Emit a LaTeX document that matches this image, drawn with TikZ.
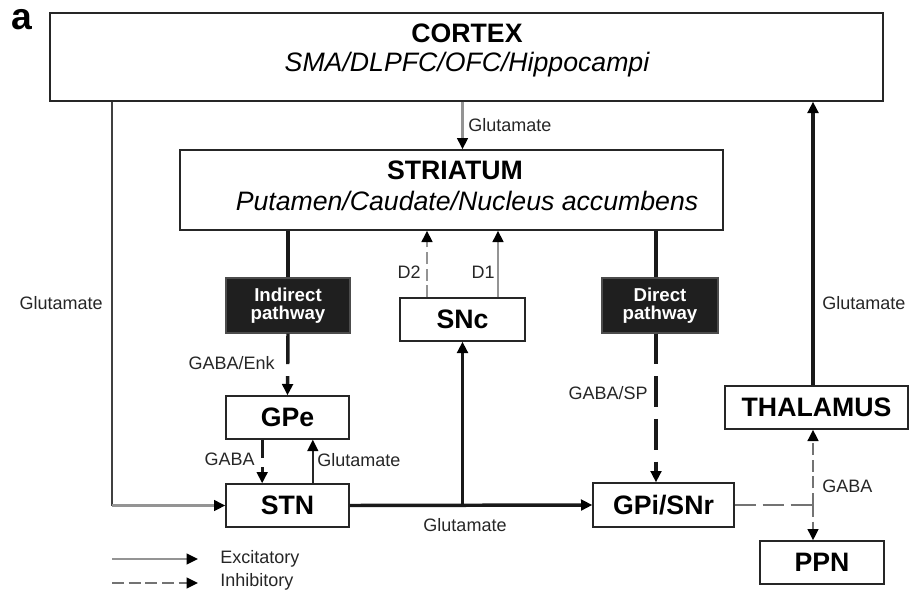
\documentclass[tikz,border=0pt]{standalone}
\usepackage{fontspec}
\setmainfont{Liberation Sans}
\usetikzlibrary{arrows.meta,calc}
\usepackage{xcolor}
\colorlet{exc-gray}{black!42}
\colorlet{inh-gray}{black!55}
\def\pxu{0.75pt}
\tikzset{
  box/.style={draw=black!85, line width=1pt, fill=white, inner sep=0pt,
    font=\fontsize{20}{22}\selectfont\bfseries},
  boxtext/.style={inner sep=0pt},
  pathbox/.style={draw=black!70, line width=0.8pt, fill=black!88, text=white, inner sep=0pt,
    align=center, font=\fontsize{14}{13.5}\selectfont\bfseries},
  lbl/.style={font=\fontsize{13.5}{15}\selectfont, text=black!85, inner sep=0pt},
  tip/.style={-{Triangle[length=8.5pt,width=8pt,color=black]}},
  thin wire/.style={line width=1.6pt, exc-gray},
  heavy wire/.style={line width=2.6pt, black!90},
  long dash/.style={dash pattern=on 23pt off 9pt},
  short dash/.style={dash pattern=on 9pt off 3.5pt},
}

\begin{document}
\begin{tikzpicture}[x=0.75pt, y=-0.75pt]
\useasboundingbox (0,0) rectangle (910,596);

% panel letter
\node[font=\fontsize{28}{30}\selectfont\bfseries, inner sep=0pt, anchor=base] (panel) at (22,29) {a};

% boxes
\node[box, minimum width=833*\pxu, minimum height=88*\pxu] (cortex) at (466.5,57) {};
\node[boxtext, font=\fontsize{20}{22}\selectfont\bfseries, anchor=base] (cortex-name) at (467,42) {CORTEX};
\node[boxtext, font=\fontsize{20}{22}\selectfont\itshape, anchor=base] (cortex-sub) at (467,71) {SMA/DLPFC/OFC/Hippocampi};

\node[box, minimum width=543*\pxu, minimum height=80*\pxu] (striatum) at (451.5,190) {};
\node[boxtext, font=\fontsize{20}{22}\selectfont\bfseries, anchor=base] (striatum-name) at (455,179) {STRIATUM};
\node[boxtext, font=\fontsize{20}{22}\selectfont\itshape, anchor=base] (striatum-sub) at (467,210) {Putamen/Caudate/Nucleus accumbens};

\node[pathbox, minimum width=124*\pxu, minimum height=55*\pxu] (indirect) at (288,305.5) {Indirect\\pathway};
\node[pathbox, minimum width=116*\pxu, minimum height=55*\pxu] (direct) at (660,305.5) {Direct\\pathway};

\node[box, minimum width=125*\pxu, minimum height=43*\pxu] (snc) at (462.5,319.5) {SNc};
\node[box, minimum width=123*\pxu, minimum height=43*\pxu] (gpe) at (287.5,417.5) {GPe};
\node[box, minimum width=123*\pxu, minimum height=43*\pxu] (stn) at (287.5,505.5) {STN};
\node[box, minimum width=141*\pxu, minimum height=44*\pxu] (gpi) at (663.5,505) {GPi/SNr};
\node[box, minimum width=183*\pxu, minimum height=43*\pxu] (thal) at (816.5,407.5) {THALAMUS};
\node[box, minimum width=124*\pxu, minimum height=43*\pxu] (ppn) at (822,562.5) {PPN};

% x positions of the vertical wires
\coordinate (ctx-x) at (112,0);
\coordinate (d2-x) at (427,0);
\coordinate (d1-x) at (498,0);
\coordinate (dir-x) at (656,0);
\coordinate (thal-x) at (813,0);

% cortex -> striatum
\draw[thin wire, tip] (cortex.south -| snc.north) -- (striatum.north -| snc.north);
\node[lbl, anchor=west] (glu-str) at (468,125) {Glutamate};

% cortex -> STN
\coordinate (ctx-turn) at (stn.west -| ctx-x);
\draw[line width=1.6pt, black!75] (cortex.south -| ctx-x) -- (ctx-turn);
\draw[thin wire, tip] (ctx-turn) -- (stn.west);
\node[lbl, anchor=east] (glu-left) at (103,303) {Glutamate};

% indirect pathway
\draw[heavy wire] (striatum.south -| indirect.north) -- (indirect.north);
\draw[heavy wire, long dash, tip] (indirect.south) -- (gpe.north);
\node[lbl, anchor=east] (gaba-enk) at (275,363) {GABA/Enk};

% GPe <-> STN
\draw[heavy wire, line width=2.2pt, dash pattern=on 13.5pt off 7pt, tip] ([xshift=-19pt]gpe.south) -- ([xshift=-19pt]stn.north);
\draw[line width=1.6pt, black!85, tip] ([xshift=19pt]stn.north) -- ([xshift=19pt]gpe.south);
\node[lbl, anchor=east] (gaba-gpe) at (255,459) {GABA};
\node[lbl, anchor=west] (glu-gpe) at (317,460) {Glutamate};

% STN -> GPi/SNr and SNc
\draw[heavy wire, tip] (stn.east) -- (gpi.west);
\draw[heavy wire, tip] (stn.east -| snc.south) -- (snc.south);
\node[lbl] (glu-stn) at (465,525) {Glutamate};

% SNc -> striatum
\draw[thin wire, short dash, tip] (snc.north -| d2-x) -- (striatum.south -| d2-x);
\draw[thin wire, tip] (snc.north -| d1-x) -- (striatum.south -| d1-x);
\node[lbl, anchor=east] (d2) at (421,272) {D2};
\node[lbl, anchor=east] (d1) at (495,272) {D1};

% direct pathway
\draw[heavy wire] (striatum.south -| dir-x) -- (direct.north -| dir-x);
\draw[heavy wire, long dash, tip] (direct.south -| dir-x) -- (gpi.north -| dir-x);
\node[lbl, anchor=east] (gaba-sp) at (648,393) {GABA/SP};

% GPi/SNr -> thalamus and PPN
\coordinate (gaba-j) at (gpi.east -| thal-x);
\draw[line width=1.6pt, inh-gray, dash pattern=on 16pt off 5pt] (gpi.east) -- (gaba-j);
\draw[line width=1.6pt, inh-gray, short dash, tip] (gaba-j) -- (thal.south -| thal-x);
\draw[line width=1.6pt, inh-gray, short dash, tip] (gaba-j) -- (ppn.north -| thal-x);
\node[lbl, anchor=west] (gaba-gpi) at (822,486) {GABA};

% thalamus -> cortex
\draw[heavy wire, tip] (thal.north -| thal-x) -- (cortex.south -| thal-x);
\node[lbl, anchor=west] (glu-thal) at (822,303) {Glutamate};

% legend
\coordinate (leg-exc-a) at (112,559);
\coordinate (leg-exc-b) at (198,559);
\coordinate (leg-inh-a) at (112,583);
\coordinate (leg-inh-b) at (198,583);
\draw[thin wire, tip] (leg-exc-a) -- (leg-exc-b);
\draw[line width=1.6pt, inh-gray, short dash, tip] (leg-inh-a) -- (leg-inh-b);
\node[lbl, anchor=west] (leg-exc) at (220,559) {Excitatory};
\node[lbl, anchor=west] (leg-inh) at (220,582) {Inhibitory};

\end{tikzpicture}
\end{document}
